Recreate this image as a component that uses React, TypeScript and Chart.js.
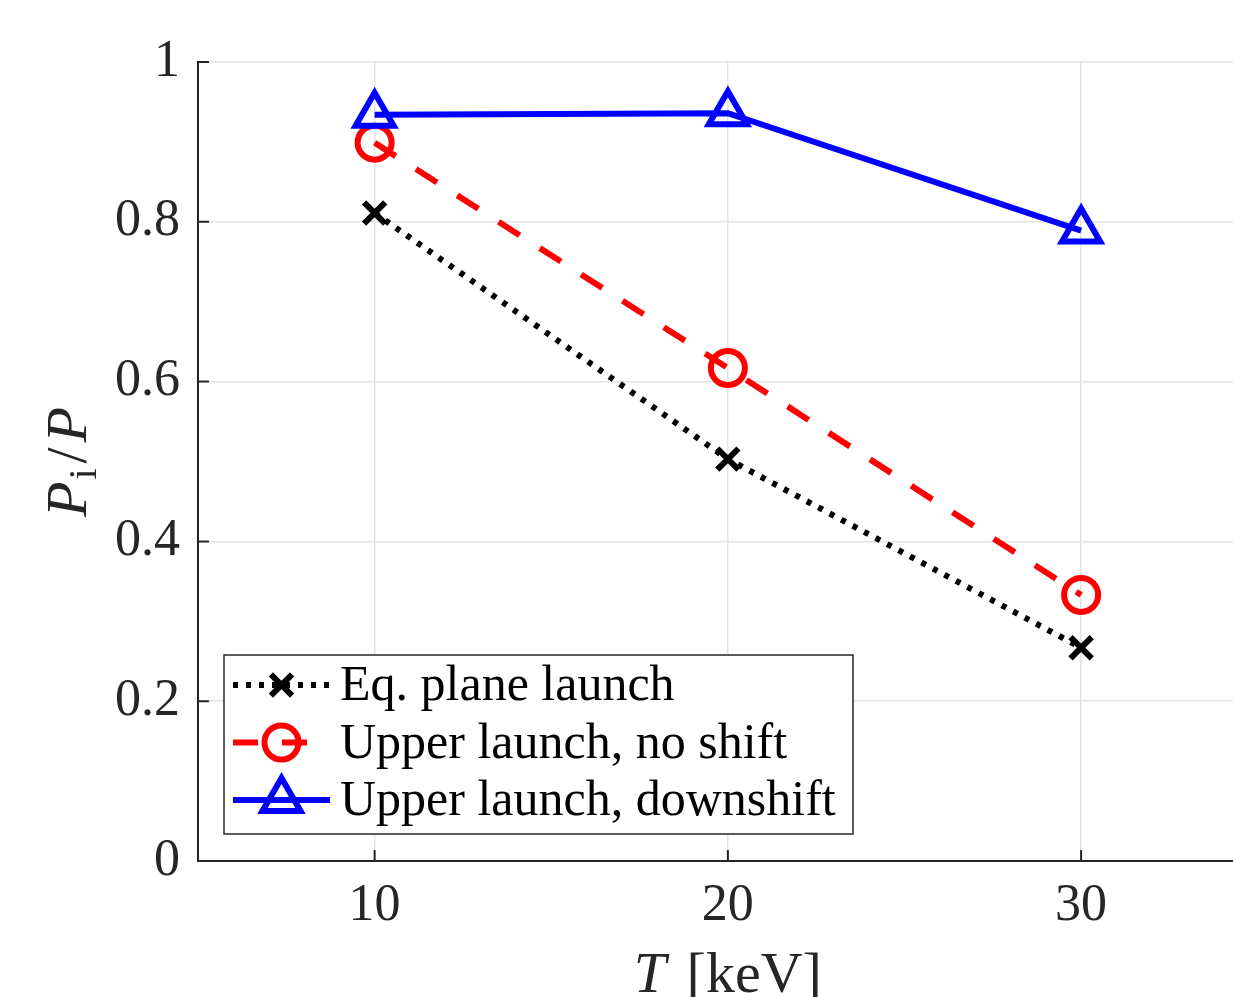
import { useEffect, useRef } from "react";
import { Chart, registerables } from "chart.js";

Chart.register(...registerables);

const temperatures = [10, 20, 30];
const eqPlaneLaunch = [0.811, 0.503, 0.267];
const upperNoShift = [0.899, 0.617, 0.333];
const upperDownshift = [0.934, 0.936, 0.789];
const seriesLabels = ["Eq. plane launch", "Upper launch, no shift", "Upper launch, downshift"];
const xTickValues = [10, 20, 30];
const yTickValues = [0, 0.2, 0.4, 0.6, 0.8, 1];
const xRange = [5, 34.3];
const yRange = [0, 1];

const SERIF = '"Liberation Serif", "DejaVu Serif", serif';
const AXIS = "#262626";
const LINE_W = 6;
const MARK_W = 6;

const toPoints = (ys: number[]) => temperatures.map((x, i) => ({ x, y: ys[i] }));

function drawMarker(ctx: CanvasRenderingContext2D, style: string, r: number, x: number, y: number) {
  ctx.beginPath();
  if (style === "circle") {
    ctx.arc(x, y, r, 0, Math.PI * 2);
  } else if (style === "triangle") {
    let rad = 0;
    ctx.moveTo(x + Math.sin(rad) * r, y - Math.cos(rad) * r);
    rad += (2 * Math.PI) / 3;
    ctx.lineTo(x + Math.sin(rad) * r, y - Math.cos(rad) * r);
    rad += (2 * Math.PI) / 3;
    ctx.lineTo(x + Math.sin(rad) * r, y - Math.cos(rad) * r);
    ctx.closePath();
  } else {
    const o = r * Math.SQRT1_2;
    ctx.moveTo(x - o, y - o);
    ctx.lineTo(x + o, y + o);
    ctx.moveTo(x + o, y - o);
    ctx.lineTo(x - o, y + o);
  }
  ctx.stroke();
}

const inwardTicks = {
  id: "inwardTicks",
  afterDraw(chart: any) {
    const { ctx, chartArea } = chart;
    const xs = chart.scales.x;
    const ys = chart.scales.y;
    ctx.save();
    ctx.strokeStyle = AXIS;
    ctx.lineWidth = 2;
    ctx.beginPath();
    xTickValues.forEach((v) => {
      const px = xs.getPixelForValue(v);
      ctx.moveTo(px, chartArea.bottom);
      ctx.lineTo(px, chartArea.bottom - 11);
    });
    yTickValues.forEach((v) => {
      const py = ys.getPixelForValue(v);
      ctx.moveTo(chartArea.left, py);
      ctx.lineTo(chartArea.left + 11, py);
    });
    ctx.stroke();
    ctx.restore();
  },
};

const axisTitles = {
  id: "axisTitles",
  afterDraw(chart: any) {
    const { ctx } = chart;
    ctx.save();
    ctx.fillStyle = AXIS;
    ctx.textBaseline = "alphabetic";
    ctx.textAlign = "left";
    const it = `italic 58px ${SERIF}`;
    const rm = `58px ${SERIF}`;
    // x title: T [keV]
    ctx.font = it;
    const wT = ctx.measureText("T").width;
    ctx.font = rm;
    const rest = " [keV]";
    const wRest = ctx.measureText(rest).width;
    const cxPlot = chart.scales.x.getPixelForValue(20);
    const x0 = cxPlot - (wT + 6 + wRest) / 2;
    ctx.font = it;
    ctx.fillText("T", x0, 992);
    ctx.font = rm;
    ctx.fillText(rest, x0 + wT + 6, 992);

    // y title: P_i / P (rotated)
    ctx.translate(86, 462);
    ctx.rotate(-Math.PI / 2);
    const sub = `40px ${SERIF}`;
    ctx.font = it;
    const wP = ctx.measureText("P").width;
    ctx.font = sub;
    const wi = ctx.measureText("i").width;
    ctx.font = rm;
    const wSl = ctx.measureText("/").width;
    const gap = 5;
    const total = wP + 2 + wi + gap + wSl + gap + wP;
    let x = -total / 2;
    ctx.font = it;
    ctx.fillText("P", x, 0);
    x += wP + 2;
    ctx.font = sub;
    ctx.fillText("i", x, 10);
    x += wi + gap;
    ctx.font = rm;
    ctx.fillText("/", x, 0);
    x += wSl + gap;
    ctx.font = it;
    ctx.fillText("P", x, 0);
    ctx.restore();
  },
};

const customLegend = {
  id: "customLegend",
  afterDatasetsDraw(chart: any) {
    const { ctx } = chart;
    const box = { x: 224, y: 655, w: 629, h: 179 };
    ctx.save();
    ctx.fillStyle = "#ffffff";
    ctx.fillRect(box.x, box.y, box.w, box.h);
    ctx.strokeStyle = AXIS;
    ctx.lineWidth = 1.5;
    ctx.strokeRect(box.x, box.y, box.w, box.h);
    const rowY = [685, 742.5, 800];
    chart.data.datasets.forEach((ds: any, i: number) => {
      const y = rowY[i];
      const x1 = 233;
      const x2 = 330;
      ctx.save();
      ctx.strokeStyle = ds.borderColor;
      ctx.lineWidth = ds.borderWidth;
      ctx.lineCap = "butt";
      ctx.setLineDash(ds.borderDash || []);
      ctx.beginPath();
      ctx.moveTo(x1, y);
      ctx.lineTo(x2, y);
      ctx.stroke();
      ctx.restore();
      ctx.save();
      ctx.setLineDash([]);
      ctx.strokeStyle = ds.pointBorderColor;
      ctx.lineWidth = ds.pointBorderWidth;
      drawMarker(ctx, ds.pointStyle, ds.pointRadius, (x1 + x2) / 2, y);
      ctx.restore();
      ctx.fillStyle = "#000000";
      ctx.font = `50px ${SERIF}`;
      ctx.textBaseline = "middle";
      ctx.textAlign = "left";
      ctx.fillText(ds.label, 340, y + 2);
    });
    ctx.restore();
  },
};

export default function App() {
  const ref = useRef<HTMLCanvasElement | null>(null);

  useEffect(() => {
    document.body.style.margin = "0";
    const canvas = ref.current;
    if (!canvas) return;
    const chart = new Chart(canvas, {
      type: "line",
      data: {
        datasets: [
          {
            label: seriesLabels[0],
            data: toPoints(eqPlaneLaunch),
            borderColor: "#000000",
            borderWidth: LINE_W,
            borderDash: [5, 8],
            borderCapStyle: "butt",
            pointStyle: "crossRot",
            pointRadius: 15,
            pointBorderWidth: MARK_W,
            pointBorderColor: "#000000",
            pointBackgroundColor: "rgba(0,0,0,0)",
            order: 3,
          },
          {
            label: seriesLabels[1],
            data: toPoints(upperNoShift),
            borderColor: "#ff0000",
            borderWidth: LINE_W,
            borderDash: [25, 24],
            borderCapStyle: "butt",
            pointStyle: "circle",
            pointRadius: 17,
            pointBorderWidth: MARK_W,
            pointBorderColor: "#ff0000",
            pointBackgroundColor: "rgba(0,0,0,0)",
            order: 2,
          },
          {
            label: seriesLabels[2],
            data: toPoints(upperDownshift),
            borderColor: "#0000ff",
            borderWidth: LINE_W,
            pointStyle: "triangle",
            pointRadius: 22,
            pointBorderWidth: MARK_W,
            pointBorderColor: "#0000ff",
            pointBackgroundColor: "rgba(0,0,0,0)",
            order: 1,
          },
        ],
      },
      options: {
        animation: false,
        responsive: false,
        maintainAspectRatio: false,
        devicePixelRatio: 1,
        layout: { autoPadding: false, padding: { top: 62, left: 0, right: 0, bottom: 0 } },
        plugins: {
          legend: { display: false },
          tooltip: { enabled: false },
        },
        elements: { line: { tension: 0 } },
        scales: {
          x: {
            type: "linear",
            min: xRange[0],
            max: xRange[1],
            afterBuildTicks: (s: any) => {
              s.ticks = xTickValues.map((v) => ({ value: v }));
            },
            afterFit: (s: any) => {
              s.height = 136;
              s.paddingLeft = 0;
              s.paddingRight = 0;
            },
            grid: { color: "#e3e3e3", lineWidth: 1.5, drawTicks: false },
            border: { display: true, color: AXIS, width: 2 },
            ticks: {
              color: AXIS,
              padding: 14,
              font: { family: SERIF, size: 52, lineHeight: 1.2 },
              maxRotation: 0,
              autoSkip: false,
              callback: (v: any) => String(v),
            },
          },
          y: {
            type: "linear",
            min: yRange[0],
            max: yRange[1],
            afterBuildTicks: (s: any) => {
              s.ticks = yTickValues.map((v) => ({ value: v }));
            },
            afterFit: (s: any) => {
              s.width = 198;
            },
            grid: { color: "#e3e3e3", lineWidth: 1.5, drawTicks: false },
            border: { display: true, color: AXIS, width: 2 },
            ticks: {
              color: AXIS,
              padding: 18,
              font: { family: SERIF, size: 52, lineHeight: 1.2 },
              autoSkip: false,
              callback: (v: any) => (v === 0 || v === 1 ? String(v) : Number(v).toFixed(1)),
            },
          },
        },
      },
      plugins: [customLegend, inwardTicks, axisTitles],
    });
    return () => chart.destroy();
  }, []);

  return (
    <div style={{ width: 1233, height: 997, overflow: "hidden" }}>
      <canvas ref={ref} width={1233} height={997} style={{ display: "block", width: 1233, height: 997 }} />
    </div>
  );
}
